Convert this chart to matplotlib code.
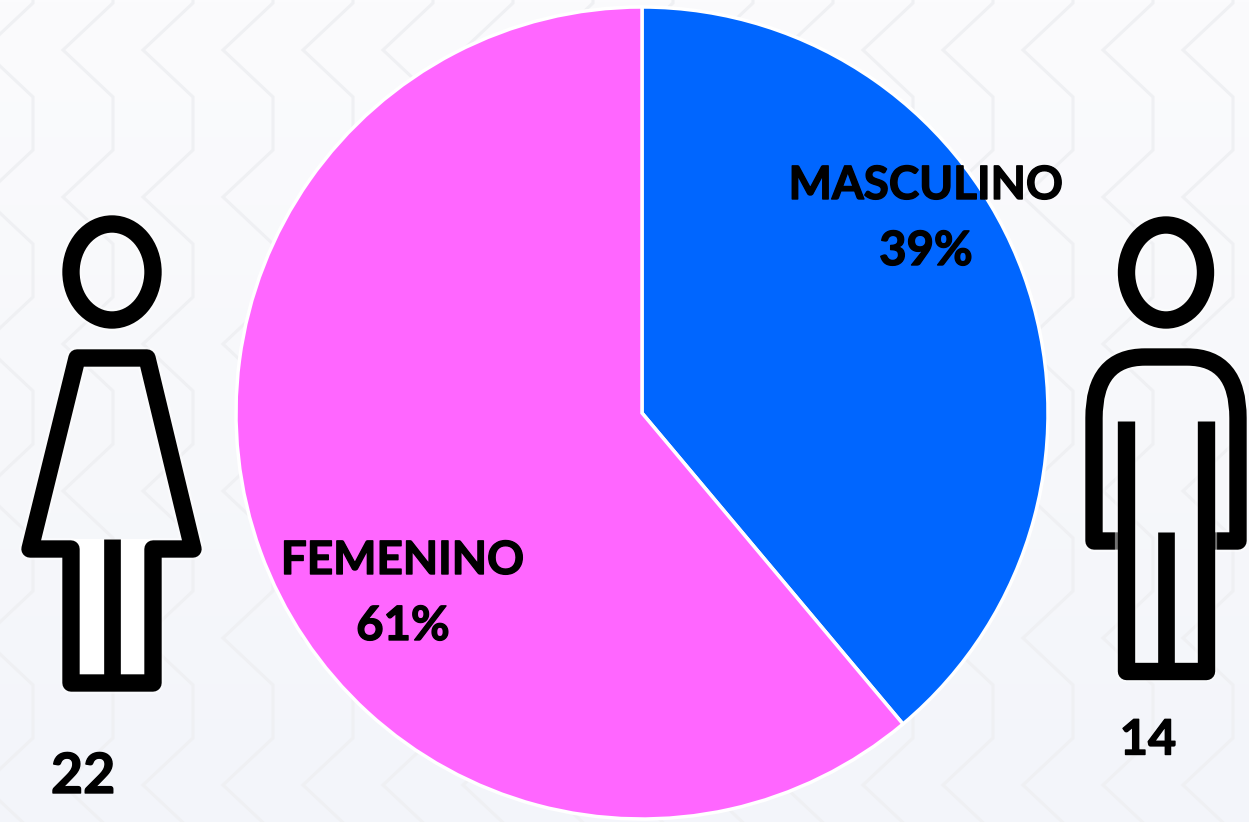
"""Pie chart of gender split with icons, drawn over a light chevron background."""
import numpy as np
import matplotlib
matplotlib.use("Agg")
import matplotlib.pyplot as plt
import matplotlib.patheffects as pe
from matplotlib.path import Path
from matplotlib.patches import PathPatch, Ellipse, Polygon

W, H = 1249, 822
categories = ["MASCULINO", "FEMENINO"]
counts = [14, 22]
percent_labels = ["39%", "61%"]
colors = ["#0066FF", "#FF66FF"]

plt.rcParams["font.family"] = ["Lato", "DejaVu Sans"]
fig = plt.figure(figsize=(W / 100, H / 100), dpi=100)

# fond en coordonnees pixel (y vers le bas)
bg = fig.add_axes([0, 0, 1, 1])
bg.set_xlim(0, W); bg.set_ylim(H, 0); bg.axis("off")
grad = np.linspace(0, 1, 256).reshape(-1, 1)
cmap = matplotlib.colors.LinearSegmentedColormap.from_list("bg", ["#FBFBFD", "#F7F8FB", "#F3F5FA"])
bg.imshow(grad, extent=[0, W, H, 0], cmap=cmap, aspect="auto", zorder=0)

# chevrons
for x0 in np.arange(33, W + 80, 80):
    xs, ys = [], []
    for y0 in np.arange(-97, H, 147):
        xs += [x0 - 50, x0, x0, x0 - 50]
        ys += [y0, y0 + 47, y0 + 100, y0 + 147]
    bg.plot(xs, ys, color="#EFF0F3", lw=2.2, zorder=1, solid_joinstyle="miter")

glow = [pe.withStroke(linewidth=16, foreground="white", alpha=0.45)]
ICON = dict(fc="none", ec="black", lw=12.5, zorder=3, joinstyle="round", path_effects=glow)
BAR = dict(color="black", lw=12, zorder=4, solid_capstyle="butt")

# femme
bg.add_patch(Polygon([(71, 539), (153, 539), (153, 682), (71, 682)], fc="white", ec="none", zorder=2))
bg.add_patch(Ellipse((112, 272), 82, 96, **ICON))
bg.add_patch(Polygon([(77, 358), (147, 358), (193, 549), (153, 549), (153, 683),
                      (71, 683), (71, 549), (30, 549)], closed=True, **ICON))
bg.plot([112, 112], [539, 683], **BAR)

# homme
bg.add_patch(Ellipse((1166, 272.5), 79, 95, **ICON))
verts = [(1126, 541), (1094, 541), (1094, 418), (1094, 357), (1145, 357), (1187, 357),
         (1238, 357), (1238, 418), (1238, 541), (1206, 541)]
codes = [Path.MOVETO, Path.LINETO, Path.LINETO, Path.CURVE3, Path.CURVE3, Path.LINETO,
         Path.CURVE3, Path.CURVE3, Path.LINETO, Path.LINETO]
bg.add_patch(PathPatch(Path(verts, codes), **ICON))
bg.add_patch(Polygon([(1126, 421), (1126, 671), (1206, 671), (1206, 421)], closed=False,
                     capstyle="butt", **ICON))
bg.plot([1166, 1166], [532, 671], **BAR)

# camembert
cx, cy, r = 642, 413, 406
ax = fig.add_axes([(cx - r) / W, 1 - (cy + r) / H, 2 * r / W, 2 * r / H])
ax.pie(counts, colors=colors, startangle=90, counterclock=False, radius=1,
       wedgeprops=dict(edgecolor="white", linewidth=2.5, clip_on=False))
ax.set_xlim(-1, 1); ax.set_ylim(-1, 1)
ax.patch.set_alpha(0)

# le gras du modele est plus epais que Lato Bold
heavy = [pe.withStroke(linewidth=1.0, foreground="black")]
TXT = dict(fontweight="bold", color="black", ha="center", va="center", zorder=6, path_effects=heavy)
top = fig.add_axes([0, 0, 1, 1], facecolor="none")
top.set_xlim(0, W); top.set_ylim(H, 0); top.axis("off")
top.text(926, 186, categories[0], fontsize=33, **TXT)
top.text(926, 251, percent_labels[0], fontsize=34, **TXT)
top.text(403, 561, categories[1], fontsize=33, **TXT)
top.text(403, 626, percent_labels[1], fontsize=34, **TXT)
top.text(83, 777, str(counts[1]), fontsize=40, **TXT)
top.text(1148, 740, str(counts[0]), fontsize=35, **TXT)

fig.savefig("out.png", dpi=100)
